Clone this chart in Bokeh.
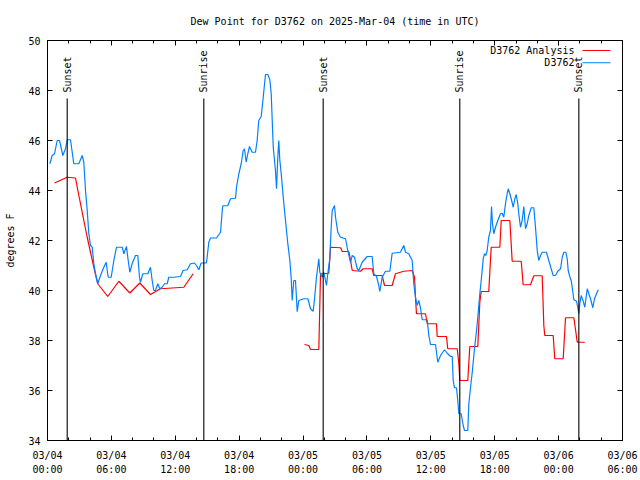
import numpy as np
from bokeh.plotting import figure
from bokeh.models import Range1d, FixedTicker, LinearAxis, Label
from bokeh.embed import file_html
from bokeh.resources import INLINE

# ---------------- data (hours since 2025-03-04 00:00 UTC) ----------------
obs_hours = [0.22, 0.44, 0.66, 0.91, 1.13, 1.44, 1.69, 1.85, 2.16, 2.47, 2.94, 3.26, 3.41, 3.57,
             3.73, 3.88, 4.04, 4.20, 4.35, 4.51, 4.72, 4.98, 5.29, 5.51, 5.70, 5.98, 6.23, 6.48,
             7.02, 7.17, 7.42, 7.54, 7.73, 7.95, 8.26, 8.48, 8.64, 8.73, 8.95, 9.42, 9.67, 9.83,
             9.98, 10.14, 10.36, 10.55, 10.77, 10.99, 11.24, 11.39, 11.86, 12.49, 12.74, 13.12,
             13.43, 13.81, 13.99, 14.21, 14.43, 14.93, 15.15, 15.31, 15.87, 16.25, 16.41, 16.46,
             16.93, 17.19, 17.66, 17.75, 17.97, 18.19, 18.38, 18.50, 18.66, 18.81, 18.97, 19.22,
             19.53, 19.69, 19.84, 20.07, 20.26, 20.47, 20.69, 20.88, 21.01, 21.20, 21.41, 21.51,
             21.63, 21.72, 21.82, 21.95, 22.14, 22.35, 22.57, 22.76, 22.89, 22.98, 23.13, 23.29,
             23.45, 23.60, 24.07, 24.45, 24.70, 24.95, 25.08, 25.26, 25.48, 25.57, 25.80, 25.95,
             26.20, 26.32, 26.51, 26.64, 26.74, 26.95, 27.05, 27.26, 27.52, 27.99, 28.20, 28.46,
             28.62, 28.83, 29.09, 29.24, 29.55, 30.02, 30.49, 30.64, 30.90, 31.11, 31.21, 31.43,
             31.74, 32.15, 32.37, 33.15, 33.46, 33.62, 33.93, 34.25, 34.40, 34.56, 34.72, 34.87,
             35.03, 35.19, 35.66, 35.81, 35.97, 36.44, 36.65, 36.91, 37.28, 37.54, 37.85, 38.01,
             38.10, 38.22, 38.41, 38.53, 38.63, 38.85, 39.04, 39.16, 39.47, 39.57, 39.73, 39.89,
             40.10, 40.29, 40.41, 40.60, 40.76, 40.92, 41.04, 41.16, 41.29, 41.44, 41.60, 41.70,
             41.79, 41.91, 42.07, 42.29, 42.54, 42.70, 42.85, 43.01, 43.17, 43.27, 43.42, 43.55,
             43.74, 43.89, 44.02, 44.17, 44.26, 44.42, 44.58, 44.73, 44.89, 45.05, 45.20, 45.43,
             45.67, 45.83, 45.99, 46.14, 46.30, 46.46, 46.86, 47.08, 47.30, 47.49, 47.71, 47.92,
             48.18, 48.34, 48.49, 48.68, 48.81, 48.90, 49.05, 49.18, 49.28, 49.43, 49.68, 49.80,
             49.90, 49.99, 50.12, 50.31, 50.46, 50.69, 50.84, 51.00, 51.21, 51.37, 51.56, 51.72]
obs_dewpt = [45.07, 45.40, 45.47, 46.00, 46.00, 45.40, 45.67, 46.03, 46.03, 45.07, 45.07, 45.40, 45.13, 44.00,
             43.20, 42.27, 41.80, 41.73, 41.07, 40.67, 40.27, 40.60, 40.93, 41.13, 40.53, 40.53, 41.20, 41.73,
             41.73, 41.47, 41.76, 41.33, 40.73, 41.07, 41.40, 41.40, 40.53, 40.33, 40.67, 40.67, 40.93, 40.40,
             40.00, 40.00, 40.27, 40.07, 40.13, 40.27, 40.27, 40.53, 40.53, 40.56, 40.80, 40.83,
             41.07, 41.10, 41.00, 40.83, 41.10, 41.10, 41.93, 42.10, 42.10, 42.33, 43.20, 43.39,
             43.39, 43.67, 43.69, 44.13, 44.67, 45.07, 45.60, 45.67, 45.13, 45.47, 45.76, 45.53,
             45.53, 46.00, 46.80, 46.96, 47.73, 48.64, 48.64, 48.43, 47.87, 45.73, 44.80, 44.07,
             45.33, 46.00, 45.20, 44.67, 43.73, 42.80, 41.87, 41.20, 40.47, 39.60, 40.40, 40.40,
             39.15, 39.60, 39.67, 39.67, 39.27, 39.17, 39.67, 40.53, 41.27, 40.73, 40.53, 40.73,
             40.20, 40.67, 41.27, 42.53, 43.20, 43.40, 42.93, 42.33, 42.13, 42.07, 41.60, 41.13,
             41.40, 41.33, 40.87, 40.80, 41.13, 41.36, 41.36, 40.67, 40.56, 40.20, 39.96, 40.53,
             40.77, 40.77, 41.49, 41.53, 41.80, 41.53, 41.47, 41.20, 40.27, 39.73, 39.40, 39.60,
             39.30, 38.83, 38.83, 38.20, 37.84, 37.84, 37.13, 37.40, 37.63, 37.49, 37.36, 37.36,
             36.40, 36.11, 36.11, 35.60, 35.07, 35.07, 34.60, 34.40, 34.40, 35.47, 36.13, 36.73,
             37.67, 38.40, 38.93, 39.87, 40.53, 41.27, 41.47, 41.40, 41.60, 42.13, 42.40, 43.36,
             42.67, 42.27, 42.53, 42.80, 43.07, 43.09, 42.93, 43.47, 43.87, 44.07, 43.87, 43.67,
             43.33, 43.67, 43.84, 43.47, 43.07, 42.53, 42.80, 43.36, 42.47, 42.67, 43.00, 43.31,
             43.31, 42.53, 41.60, 41.20, 41.40, 41.53, 41.53, 41.20, 40.87, 40.60, 40.60, 40.77,
             40.87, 41.33, 41.53, 41.53, 41.27, 40.80, 40.56, 40.40, 40.13, 39.63, 39.57, 39.33,
             39.07, 39.47, 39.80, 39.57, 39.33, 40.07, 39.87, 39.67, 39.31, 39.67, 39.87, 40.03]

ana_hours = [0.66, 1.85, 2.63, 2.85, 3.10, 3.41, 3.73, 4.04, 4.35, 4.72, 5.66, 6.70, 7.73, 8.67,
             9.67, 10.61, 12.80, 13.68,
             float("nan"),
             24.14, 24.54, 24.70, 25.48, 25.64, 26.42, 26.58, 27.52, 27.68, 28.30, 28.62, 29.40,
             29.65, 30.49, 30.64, 31.43, 31.65, 32.37, 32.68, 33.46, 34.25, 34.47, 34.56, 34.65,
             35.50, 35.66, 36.53, 36.60, 37.47, 37.59, 38.48, 38.63, 38.72, 39.47, 39.66, 40.41,
             40.60, 40.73, 41.44, 41.67, 42.48, 42.61, 43.42, 43.64, 44.49, 44.67, 45.36, 45.67,
             46.46, 46.61, 46.70, 47.49, 47.64, 48.43, 48.65, 49.43, 49.59, 49.75, 50.46]
ana_dewpt = [44.30, 44.53, 44.50, 44.00, 43.47, 42.80, 42.13, 41.53, 40.93, 40.27, 39.76, 40.37, 39.90, 40.30,
             39.84, 40.07, 40.13, 40.67,
             float("nan"),
             37.84, 37.80, 37.64, 37.64, 40.67, 40.69, 41.73, 41.71, 41.56, 41.56, 40.80, 40.77,
             40.87, 40.87, 40.60, 40.60, 40.20, 40.20, 40.67, 40.77, 40.80, 40.53, 39.73, 39.07,
             39.07, 38.67, 38.67, 38.16, 38.16, 37.67, 37.67, 37.07, 36.40, 36.40, 37.76, 37.76,
             39.53, 39.96, 39.96, 41.73, 41.73, 42.80, 42.80, 41.17, 41.17, 40.23, 40.23, 40.59,
             40.59, 38.60, 38.20, 38.20, 37.27, 37.27, 38.91, 38.91, 38.43, 37.93, 37.93]

event_hours = [1.85, 14.68, 25.89, 38.72, 49.90]
event_names = ["Sunset", "Sunrise", "Sunset", "Sunrise", "Sunset"]

x_tick_hours = [0, 6, 12, 18, 24, 30, 36, 42, 48, 54]
x_tick_labels = ["03/04\n00:00", "03/04\n06:00", "03/04\n12:00", "03/04\n18:00",
                 "03/05\n00:00", "03/05\n06:00", "03/05\n12:00", "03/05\n18:00",
                 "03/06\n00:00", "03/06\n06:00"]
x_minor_hours = list(range(0, 55, 2))
y_ticks = [34, 36, 38, 40, 42, 44, 46, 48, 50]

title_text = "Dew Point for D3762 on 2025-Mar-04 (time in UTC)"
y_label = "degrees F"
series_names = ["D3762 Analysis", "D3762"]
series_colors = ["#ff0000", "#0080ff"]

# ---------------- styling ----------------
FONT = "DejaVu Sans Mono"
FS = "10px"

p = figure(width=640, height=480, x_range=Range1d(0, 54), y_range=Range1d(34, 50),
           output_backend="svg", toolbar_location=None,
           min_border_left=47, min_border_right=18, min_border_top=40, min_border_bottom=40)
p.grid.visible = False
p.background_fill_color = "white"
p.border_fill_color = "white"
p.outline_line_color = "black"
p.outline_line_width = 1

p.title.text = title_text
p.title.align = "center"
p.title.text_font = FONT
p.title.text_font_size = FS
p.title.text_font_style = "normal"
p.title.text_color = "black"
p.title.offset = -5
p.title.standoff = 27

xa = p.xaxis[0]
xa.ticker = FixedTicker(ticks=x_tick_hours, minor_ticks=x_minor_hours)
xa.major_label_overrides = {h: lab for h, lab in zip(x_tick_hours, x_tick_labels)}
ya = p.yaxis[0]
ya.ticker = FixedTicker(ticks=y_ticks)
ya.axis_label = y_label
ya.axis_label_standoff = 9

for ax in (xa, ya):
    ax.major_label_text_font = FONT
    ax.major_label_text_font_size = FS
    ax.major_label_text_color = "black"
    ax.axis_label_text_font = FONT
    ax.axis_label_text_font_size = FS
    ax.axis_label_text_font_style = "normal"
    ax.axis_label_text_color = "black"
    ax.axis_line_color = "black"
    ax.major_tick_line_color = "black"
    ax.minor_tick_line_color = "black"
    ax.major_tick_in = 5
    ax.major_tick_out = 0
    ax.minor_tick_in = 3
    ax.minor_tick_out = 0
xa.major_label_standoff = 9
xa.major_label_text_line_height = 1.3
ya.major_label_standoff = 7
ya.minor_tick_in = 0

# mirrored axes (ticks only, no labels)
top = LinearAxis(ticker=FixedTicker(ticks=x_tick_hours, minor_ticks=x_minor_hours))
top.major_label_overrides = {h: "" for h in x_tick_hours}
right = LinearAxis(ticker=FixedTicker(ticks=y_ticks))
right.major_label_overrides = {v: "" for v in y_ticks}
for ax in (top, right):
    ax.major_label_standoff = 0
    ax.axis_line_color = "black"
    ax.major_tick_in = 5
    ax.major_tick_out = 0
    ax.minor_tick_in = 3
    ax.minor_tick_out = 0
right.minor_tick_in = 0
p.add_layout(top, "above")
p.add_layout(right, "right")

# data lines
p.line(ana_hours, ana_dewpt, line_color=series_colors[0], line_width=1.2)
p.line(obs_hours, obs_dewpt, line_color=series_colors[1], line_width=1.2)

# sunrise / sunset markers
line_top = 47.68
p.segment(x0=event_hours, y0=[34] * len(event_hours), x1=event_hours, y1=[line_top] * len(event_hours),
          line_color="black", line_width=1.1)
p.text(x=event_hours, y=[47.92] * len(event_hours), text=event_names, angle=np.pi / 2,
       text_align="left", text_baseline="middle", text_font={"value": FONT},
       text_font_size={"value": FS}, text_color="black")

# legend (text left of sample, gnuplot style)
leg_text_x = 49.49
leg_rows_y = [49.60, 49.11]
leg_line_x = [50.24, 52.87]
for name, color, yy in zip(series_names, series_colors, leg_rows_y):
    p.add_layout(Label(x=leg_text_x, y=yy, text=name, text_align="right", text_baseline="middle",
                       text_font=FONT, text_font_size=FS, text_color="black"))
    p.line(leg_line_x, [yy, yy], line_color=color, line_width=1.2)

open("out.html", "w").write(file_html(p, INLINE))
